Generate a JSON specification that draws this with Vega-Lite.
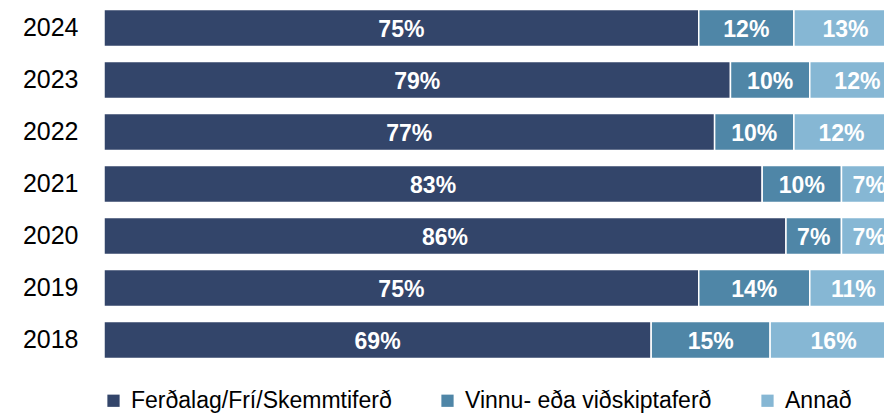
{
  "$schema": "https://vega.github.io/schema/vega-lite/v6.json",
  "autosize": {"type": "none"},
  "padding": {"left": 104, "top": 2, "right": 0, "bottom": 47},
  "width": 793,
  "height": 364,
  "background": "white",
  "config": {"view": {"stroke": null}, "font": "Liberation Sans"},
  "data": {
    "values": [
      {"year": "2024", "cat": "Ferðalag/Frí/Skemmtiferð", "rod": 1, "value": 0.75},
      {"year": "2024", "cat": "Vinnu- eða viðskiptaferð", "rod": 2, "value": 0.12},
      {"year": "2024", "cat": "Annað", "rod": 3, "value": 0.13},
      {"year": "2023", "cat": "Ferðalag/Frí/Skemmtiferð", "rod": 1, "value": 0.79},
      {"year": "2023", "cat": "Vinnu- eða viðskiptaferð", "rod": 2, "value": 0.10},
      {"year": "2023", "cat": "Annað", "rod": 3, "value": 0.12},
      {"year": "2022", "cat": "Ferðalag/Frí/Skemmtiferð", "rod": 1, "value": 0.77},
      {"year": "2022", "cat": "Vinnu- eða viðskiptaferð", "rod": 2, "value": 0.10},
      {"year": "2022", "cat": "Annað", "rod": 3, "value": 0.12},
      {"year": "2021", "cat": "Ferðalag/Frí/Skemmtiferð", "rod": 1, "value": 0.83},
      {"year": "2021", "cat": "Vinnu- eða viðskiptaferð", "rod": 2, "value": 0.10},
      {"year": "2021", "cat": "Annað", "rod": 3, "value": 0.07},
      {"year": "2020", "cat": "Ferðalag/Frí/Skemmtiferð", "rod": 1, "value": 0.86},
      {"year": "2020", "cat": "Vinnu- eða viðskiptaferð", "rod": 2, "value": 0.07},
      {"year": "2020", "cat": "Annað", "rod": 3, "value": 0.07},
      {"year": "2019", "cat": "Ferðalag/Frí/Skemmtiferð", "rod": 1, "value": 0.75},
      {"year": "2019", "cat": "Vinnu- eða viðskiptaferð", "rod": 2, "value": 0.14},
      {"year": "2019", "cat": "Annað", "rod": 3, "value": 0.11},
      {"year": "2018", "cat": "Ferðalag/Frí/Skemmtiferð", "rod": 1, "value": 0.69},
      {"year": "2018", "cat": "Vinnu- eða viðskiptaferð", "rod": 2, "value": 0.15},
      {"year": "2018", "cat": "Annað", "rod": 3, "value": 0.16}
    ]
  },
  "transform": [
    {"stack": "value", "groupby": ["year"], "sort": [{"field": "rod", "order": "ascending"}], "as": ["v0", "v1"]}
  ],
  "encoding": {
    "y": {
      "field": "year",
      "type": "nominal",
      "sort": "descending",
      "title": null,
      "scale": {"paddingInner": 0.29, "paddingOuter": 0.145},
      "axis": {
        "domain": false,
        "ticks": false,
        "labelFontSize": 25,
        "labelColor": "#000000",
        "labelPadding": 26,
        "labelFont": "Liberation Sans"
      }
    }
  },
  "layer": [
    {
      "mark": {"type": "bar", "stroke": "#ffffff", "strokeWidth": 1.5},
      "encoding": {
        "x": {
          "field": "v0",
          "type": "quantitative",
          "scale": {"domain": [0, 1], "nice": false},
          "axis": null
        },
        "x2": {"field": "v1"},
        "color": {
          "field": "cat",
          "type": "nominal",
          "sort": ["Ferðalag/Frí/Skemmtiferð", "Vinnu- eða viðskiptaferð", "Annað"],
          "scale": {
            "domain": ["Ferðalag/Frí/Skemmtiferð", "Vinnu- eða viðskiptaferð", "Annað"],
            "range": ["#33456a", "#4f86a7", "#86b7d4"]
          },
          "legend": {
            "orient": "none",
            "legendX": -2,
            "legendY": 387,
            "padding": 0,
            "direction": "horizontal",
            "title": null,
            "symbolType": "square",
            "symbolSize": 150,
            "symbolStrokeWidth": 0,
            "labelFontSize": 23,
            "labelLimit": 0,
            "labelColor": "#000000",
            "labelFont": "Liberation Sans",
            "labelOffset": 6,
            "columnPadding": 44
          }
        }
      }
    },
    {
      "transform": [
        {"fold": ["v0", "v1"], "as": ["edge", "pos"]},
        {"aggregate": [{"op": "mean", "field": "pos", "as": "mid"}], "groupby": ["year", "cat", "value"]}
      ],
      "mark": {"type": "text", "color": "#ffffff", "fontWeight": "bold", "fontSize": 23, "dy": 2, "font": "Liberation Sans"},
      "encoding": {
        "x": {"field": "mid", "type": "quantitative"},
        "text": {"field": "value", "type": "quantitative", "format": ".0%"}
      }
    }
  ]
}
